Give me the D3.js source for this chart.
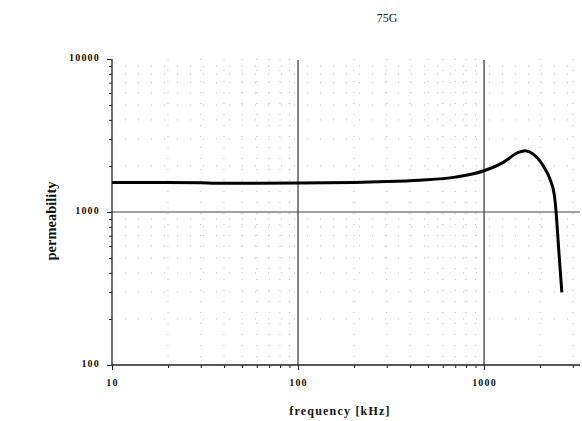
<!DOCTYPE html>
<html><head><meta charset="utf-8">
<script src="https://cdn.jsdelivr.net/npm/d3@7"></script>
<style>body{margin:0;background:#fff}svg{display:block}</style>
</head><body>
<svg id="c" width="582" height="421"></svg>
<script>
const title = "75G";
const xLabel = "frequency [kHz]";
const yLabel = "permeability";
const freq = [10, 20, 30, 36, 60, 100, 200, 300, 450, 700, 1000, 1270, 1530, 1660, 1840, 2000, 2130, 2260, 2390, 2440, 2520, 2620];
const perm = [1560, 1558, 1555, 1540, 1540, 1545, 1560, 1580, 1615, 1690, 1860, 2110, 2450, 2510, 2390, 2150, 1910, 1645, 1280, 1000, 570, 298];
const xMajor = [10, 100, 1000];
const yMajor = [100, 1000, 10000];
const xTickLabels = ["10", "100", "1000"];
const yTickLabels = ["100", "1000", "10000"];

const svg = d3.select("#c");
const x = d3.scaleLog().domain([10, 3200]).range([112, 578]);
const y = d3.scaleLog().domain([100, 10000]).range([365, 59]);

const xMinor = [];
[10, 100, 1000].forEach(d => { for (let k = 2; k <= 9; k++) { const v = d * k; if (v <= 3200) xMinor.push(v); } });
const yMinor = [];
[100, 1000].forEach(d => { for (let k = 2; k <= 9; k++) yMinor.push(d * k); });

const g = svg.append("g");
g.selectAll(".mx").data(xMinor).join("line")
  .attr("x1", d => x(d)).attr("x2", d => x(d)).attr("y1", y(10000)).attr("y2", y(100))
  .attr("stroke", "#aaa").attr("stroke-width", 1).attr("stroke-dasharray", "1,10").attr("opacity", 0.6);
g.selectAll(".my").data(yMinor).join("line")
  .attr("x1", x(10)).attr("x2", x(3200)).attr("y1", d => y(d)).attr("y2", d => y(d))
  .attr("stroke", "#aaa").attr("stroke-width", 1).attr("stroke-dasharray", "1,12").attr("opacity", 0.6);

g.selectAll(".gx").data([100, 1000]).join("line")
  .attr("x1", d => x(d)).attr("x2", d => x(d)).attr("y1", y(10000) + 1).attr("y2", y(100))
  .attr("stroke", "#333").attr("stroke-width", 1.2);
g.append("line").attr("x1", x(10)).attr("x2", x(3200) + 2).attr("y1", y(1000)).attr("y2", y(1000))
  .attr("stroke", "#444").attr("stroke-width", 1.2);

const xAxis = d3.axisBottom(x).tickValues(xMajor.concat(xMinor)).tickSize(4).tickFormat(() => "");
const ax = svg.append("g").attr("transform", `translate(0,${y(100)})`).call(xAxis);
ax.select(".domain").attr("d", `M${x(10)},0H${x(3200) + 2}`).attr("stroke", "#222").attr("stroke-width", 1.3);
ax.selectAll(".tick line").attr("stroke", "#222").attr("y2", d => xMajor.includes(d) ? 5 : 3);

const yAxis = d3.axisLeft(y).tickValues(yMajor.concat(yMinor)).tickSize(5).tickFormat(() => "");
const ay = svg.append("g").attr("transform", `translate(${x(10)},0)`).call(yAxis);
ay.select(".domain").attr("d", `M0,${y(10000)}V${y(100)}`).attr("stroke", "#222").attr("stroke-width", 1.3);
ay.selectAll(".tick line").attr("stroke", "#222").attr("x2", d => yMajor.includes(d) ? -5 : -3);

const lab = {"font-family": "Liberation Serif, serif", "font-weight": "bold", "font-size": "10px", "letter-spacing": "1.2px", "fill": "#111"};
const yl = svg.selectAll(".yl").data(yMajor).join("text")
  .attr("x", 100).attr("y", d => y(d) + 1.5).attr("text-anchor", "end").text((d, i) => yTickLabels[i]);
const xl = svg.selectAll(".xl").data(xMajor).join("text")
  .attr("x", d => x(d) + 0.5).attr("y", 386).attr("text-anchor", "middle").text((d, i) => xTickLabels[i]);
[yl, xl].forEach(s => Object.entries(lab).forEach(([k, v]) => s.attr(k, v)));

const data = freq.map((f, i) => [f, perm[i]]);
svg.append("path").datum(data)
  .attr("d", d3.line().x(d => x(d[0])).y(d => y(d[1])).curve(d3.curveMonotoneX))
  .attr("fill", "none").attr("stroke", "#000").attr("stroke-width", 3).attr("stroke-linejoin", "round");

svg.append("text").attr("x", 387).attr("y", 22).attr("text-anchor", "middle")
  .attr("font-family", "Liberation Serif, serif").attr("font-size", "12px").attr("fill", "#222").text(title);
svg.append("text").attr("x", 340).attr("y", 415).attr("text-anchor", "middle")
  .attr("font-family", "Liberation Serif, serif").attr("font-weight", "bold").attr("font-size", "12px")
  .attr("letter-spacing", "1.2px").attr("fill", "#111").text(xLabel);
svg.append("text").attr("transform", "translate(56,221) rotate(-90)").attr("text-anchor", "middle")
  .attr("font-family", "Liberation Serif, serif").attr("font-weight", "bold").attr("font-size", "14.5px")
  .attr("fill", "#111").text(yLabel);
</script>
</body></html>
